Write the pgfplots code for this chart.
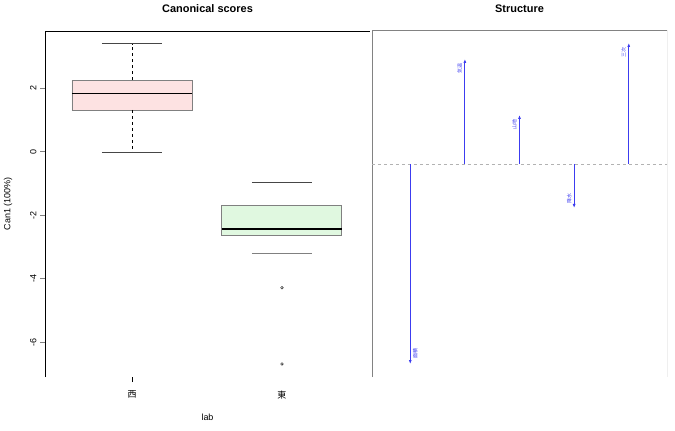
\documentclass[border=0pt]{standalone}
\usepackage{pgfplots}
\pgfplotsset{compat=1.18}
\usetikzlibrary{arrows.meta}
\usepackage{fontspec}
\setmainfont{Liberation Sans}
\newfontfamily\cjk{Noto Sans CJK JP}

\definecolor{pinkfill}{RGB}{253,226,226}
\definecolor{greenfill}{RGB}{224,248,224}
\definecolor{boxedge}{RGB}{128,128,128}
\definecolor{capcol}{RGB}{70,70,70}
\definecolor{framecol}{RGB}{130,130,130}
\definecolor{arrowblue}{RGB}{60,60,240}

\pgfplotsset{
  panel/.style={
    anchor=south west, scale only axis, height=346bp,
    axis line style={draw=none},
    /pgf/number format/assume math mode=true,
    title style={font=\bfseries\fontsize{11}{11}\selectfont,
      at={(axis description cs:0.5,1)}, anchor=center, yshift=16bp},
  },
}

\begin{document}
\begin{tikzpicture}[x=1bp,y=1bp]
\useasboundingbox (0,0) rectangle (675,430);

% ---- canonical scores by group ----
\begin{axis}[panel,
  at={(45bp,53bp)}, width=325bp,
  title={Canonical scores},
  xmin=0.42, xmax=2.587, ymin=-7.10, ymax=3.795,
  tick align=outside, major tick length=5bp,
  ytick={-6,-4,-2,0,2}, ytick pos=left,
  yticklabel style={rotate=90, anchor=south, font=\fontsize{9}{9}\selectfont},
  xtick={1,2}, xtick pos=bottom,
  xticklabels={{\cjk 西},{\cjk 東}},
  xticklabel style={font=\fontsize{9}{9}\selectfont, yshift=-5bp},
  major x tick style={draw=none},
  extra x ticks={1}, extra x tick labels={},
  extra x tick style={major x tick style={draw=black}},
  xlabel={lab},
  every axis x label/.style={at={(axis description cs:0.5,0)}, anchor=center,
    yshift=-40bp, font=\fontsize{9}{9}\selectfont},
  ylabel={Can1 (100\%)},
  every axis y label/.style={at={(axis description cs:-0.1138,0.5)}, rotate=90,
    anchor=center, font=\fontsize{9}{9}\selectfont},
]
\draw[black] (rel axis cs:0,0) -- (rel axis cs:0,1) -- (rel axis cs:1,1);

% group 西
\addplot[draw=boxedge, fill=pinkfill] coordinates {(0.6,1.31) (1.4,1.31) (1.4,2.25) (0.6,2.25) (0.6,1.31)};
\addplot[black, line width=1.5bp] coordinates {(0.6,1.82) (1.4,1.82)};
\addplot[black, dashed] coordinates {(1,2.25) (1,3.395)};
\addplot[black, dashed] coordinates {(1,1.31) (1,-0.03)};
\addplot[capcol] coordinates {(0.8,3.395) (1.2,3.395)};
\addplot[capcol] coordinates {(0.8,-0.03) (1.2,-0.03)};

% group 東
\addplot[draw=boxedge, fill=greenfill, line width=1bp] coordinates {(1.6,-2.65) (2.4,-2.65) (2.4,-1.71) (1.6,-1.71) (1.6,-2.65)};
\addplot[black, line width=2.2bp] coordinates {(1.6,-2.45) (2.4,-2.45)};
\addplot[capcol] coordinates {(1.8,-0.97) (2.2,-0.97)};
\addplot[boxedge, line width=1bp] coordinates {(1.8,-3.22) (2.2,-3.22)};
\addplot[only marks, mark=o, mark size=1.3bp, black] coordinates {(2,-4.29) (2,-6.69)};
\end{axis}

% ---- structure coefficients ----
\begin{axis}[panel,
  at={(372bp,53bp)}, width=295bp,
  title={Structure},
  xmin=0.3, xmax=5.7, ymin=-1.065, ymax=0.665,
  ticks=none,
]
\draw[framecol, line width=1bp] (rel axis cs:0,0) -- (rel axis cs:0,1) -- (rel axis cs:1,1) -- (rel axis cs:1,0);
\addplot[gray!60, dashed] coordinates {(0.3,0) (5.7,0)};

\addplot[arrowblue, line width=0.9bp, -{Latex[length=4bp,width=3bp]}] coordinates {(1,0) (1,-1.0)};
\addplot[arrowblue, line width=0.9bp, -{Latex[length=4bp,width=3bp]}] coordinates {(2,0) (2,0.525)};
\addplot[arrowblue, line width=0.9bp, -{Latex[length=4bp,width=3bp]}] coordinates {(3,0) (3,0.245)};
\addplot[arrowblue, line width=0.9bp, -{Latex[length=4bp,width=3bp]}] coordinates {(4,0) (4,-0.22)};
\addplot[arrowblue, line width=0.9bp, -{Latex[length=4bp,width=3bp]}] coordinates {(5,0) (5,0.605)};

\begin{scope}[every node/.style={text=arrowblue, font=\cjk\fontsize{5}{5}\selectfont, inner sep=0.5bp}]
\node[rotate=90, anchor=north west] at ([xshift=2bp,yshift=5bp]axis cs:1,-1.0) {面積};
\node[rotate=90, anchor=south east] at ([xshift=-2bp,yshift=-4bp]axis cs:2,0.525) {気温};
\node[rotate=90, anchor=south east] at ([xshift=-2bp,yshift=-4bp]axis cs:3,0.245) {山地};
\node[rotate=90, anchor=south west] at ([xshift=-2bp,yshift=4bp]axis cs:4,-0.22) {降水};
\node[rotate=90, anchor=south east] at ([xshift=-2bp,yshift=-4bp]axis cs:5,0.605) {三次};
\end{scope}
\end{axis}
\end{tikzpicture}
\end{document}
